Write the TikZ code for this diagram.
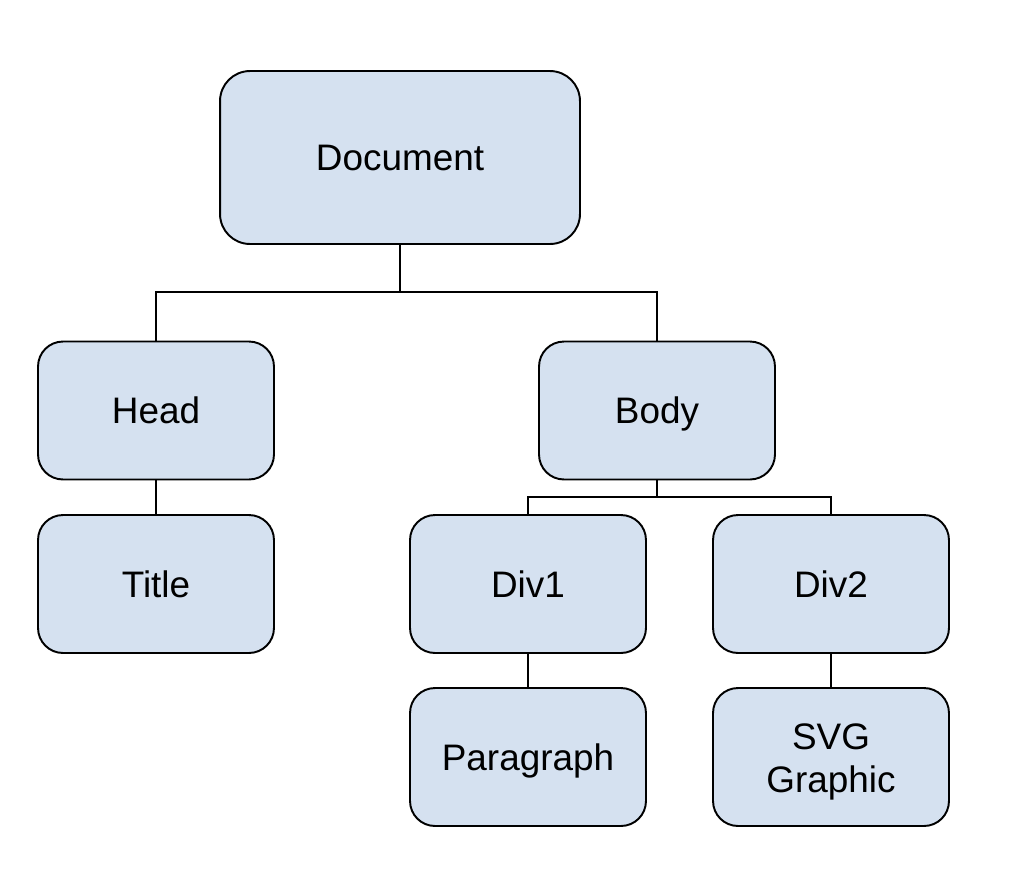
\documentclass[tikz,border=0pt]{standalone}
\usepackage{fontspec}
\setmainfont{Liberation Sans}
\usepackage{xcolor}
\usepackage{tikz}
\usetikzlibrary{arrows.meta,positioning}
\definecolor{nodeblue}{RGB}{213,225,240}
\tikzset{treenode/.style={draw,fill=nodeblue,line width=1.1pt,rounded corners=0.5cm,
    minimum width=4.72cm,minimum height=2.76cm,align=center,
    font=\fontsize{21pt}{24.5pt}\selectfont},
  oneline/.style={text height=15pt,text depth=0pt}}

\begin{document}
\begin{tikzpicture}[>=Latex,x=0.02cm,y=-0.02cm,line width=1.1pt]
    \useasboundingbox (0,0) rectangle (1012,894);
    \node[treenode,oneline,minimum width=7.2cm,minimum height=3.46cm,rounded corners=0.6cm] (doc) at (400,157.5) {Document};
    \node[treenode,oneline] (head) at (156,410.5) {Head};
    \node[treenode,oneline] (body) at (657,410.5) {Body};
    \node[treenode,oneline] (title) at (156,584) {Title};
    \node[treenode,oneline] (div1) at (528,584) {Div1};
    \node[treenode,oneline] (div2) at (831,584) {Div2};
    \node[treenode,oneline] (para) at (528,757) {Paragraph};
    \node[treenode] (svg) at (831,757) {\rule{0pt}{20.6pt}SVG\\Graphic};

    \coordinate (docjoin) at (400,292);
    \coordinate (bodyjoin) at (657,497);
    \draw (doc.south) -- (docjoin) -| (head.north);
    \draw (docjoin) -| (body.north);
    \draw (body.south) -- (bodyjoin) -| (div1.north);
    \draw (bodyjoin) -| (div2.north);
    \draw (head.south) -- (title.north);
    \draw (div1.south) -- (para.north);
    \draw (div2.south) -- (svg.north);
  \end{tikzpicture}
\end{document}
